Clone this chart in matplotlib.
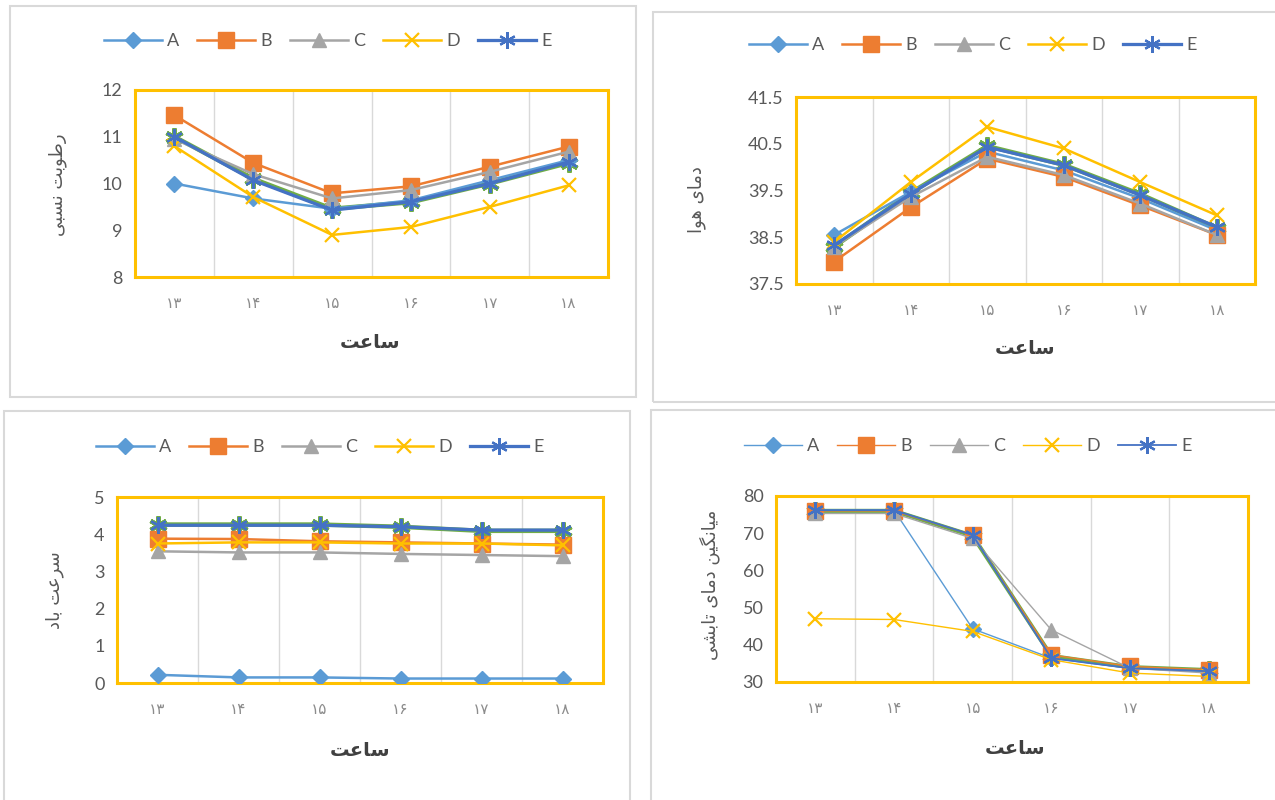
import matplotlib
matplotlib.use("Agg")
import matplotlib.pyplot as plt
from matplotlib.patches import Rectangle

# ---------------- data ----------------
hours = ["۱۳", "۱۴", "۱۵", "۱۶", "۱۷", "۱۸"]
series_names = ["A", "B", "C", "D", "E"]

# Panel 1: relative humidity
rh_A = [10.0, 9.68, 9.46, 9.64, 10.07, 10.5]
rh_B = [11.46, 10.44, 9.79, 9.94, 10.36, 10.79]
rh_C = [10.95, 10.2, 9.68, 9.86, 10.25, 10.68]
rh_D = [10.8, 9.71, 8.9, 9.07, 9.5, 9.96]
rh_E = [11.0, 10.07, 9.43, 9.61, 10.0, 10.46]
rh_F = [11.0, 10.1, 9.46, 9.6, 10.0, 10.44]

# Panel 2: air temperature
ta_A = [38.55, 39.47, 40.33, 39.93, 39.33, 38.65]
ta_B = [37.98, 39.14, 40.18, 39.79, 39.18, 38.55]
ta_C = [38.3, 39.36, 40.22, 39.83, 39.22, 38.55]
ta_D = [38.4, 39.68, 40.86, 40.4, 39.68, 38.97]
ta_E = [38.33, 39.43, 40.43, 40.04, 39.4, 38.72]
ta_F = [38.3, 39.45, 40.45, 40.05, 39.42, 38.7]

# Panel 3: wind speed
ws_A = [0.22, 0.15, 0.15, 0.12, 0.12, 0.12]
ws_B = [3.88, 3.87, 3.81, 3.78, 3.75, 3.72]
ws_C = [3.54, 3.51, 3.51, 3.47, 3.44, 3.41]
ws_D = [3.75, 3.78, 3.78, 3.75, 3.75, 3.7]
ws_E = [4.24, 4.24, 4.24, 4.2, 4.11, 4.11]
ws_F = [4.26, 4.26, 4.26, 4.2, 4.09, 4.09]

# Panel 4: mean radiant temperature
mrt_A = [76.2, 76.2, 44.3, 36.4, 33.7, 32.9]
mrt_B = [76.0, 76.0, 69.5, 37.3, 34.2, 33.3]
mrt_C = [75.3, 75.3, 68.6, 44.0, 33.7, 32.4]
mrt_D = [47.0, 46.8, 43.6, 36.0, 32.4, 31.5]
mrt_E = [76.2, 76.2, 69.5, 36.4, 33.7, 32.9]
mrt_F = [76.0, 76.0, 69.3, 37.0, 34.0, 33.2]

# ---------------- Persian text shaping (presentation forms, visual order) ----------------
def shape(codes):
    return "".join(" " if c == 0x20 else chr(c) for c in codes)[::-1]

SAAT = [0xFEB3, 0xFE8E, 0xFECB, 0xFE96]
DAMAYE = [0xFEA9, 0xFEE3, 0xFE8E, 0xFEEF]
lbl_x = shape(SAAT)
lbl_rh = shape([0xFEAD, 0xFEC3, 0xFEEE, 0xFE91, 0xFE96, 0x20,
                0xFEE7, 0xFEB4, 0xFE92, 0xFEF0])
lbl_ta = shape(DAMAYE + [0x20, 0xFEEB, 0xFEEE, 0xFE8D])
lbl_ws = shape([0xFEB3, 0xFEAE, 0xFECB, 0xFE96, 0x20, 0xFE91, 0xFE8E, 0xFEA9])
lbl_mrt = shape([0xFEE3, 0xFEF4, 0xFE8E, 0xFEE7, 0xFB95, 0xFEF4, 0xFEE6, 0x20]
                + DAMAYE + [0x20, 0xFE97, 0xFE8E, 0xFE91, 0xFEB8, 0xFEF0])

# ---------------- style ----------------
colors = {"A": "#5B9BD5", "B": "#ED7D31", "C": "#A5A5A5", "D": "#FFC000",
          "E": "#4472C4", "F": "#70AD47"}
markers = {"A": "D", "B": "s", "C": "^", "D": "x", "E": (6, 2, 0)}
msizes = {"A": 8, "B": 11, "C": 10, "D": 10, "E": 12}

W, H = 1275, 800
fig = plt.figure(figsize=(W / 100, H / 100), dpi=100)
fig.patch.set_facecolor("white")

def frac_rect(x0, y0, x1, y1):
    return [x0 / W, 1 - y1 / H, (x1 - x0) / W, (y1 - y0) / H]

# panel frames
for (x0, y0, x1, y1) in [(10, 6, 636, 397), (653, 12, 1290, 402),
                         (4, 411, 630, 810), (651, 410, 1290, 810)]:
    fig.add_artist(Rectangle((x0 / W, 1 - y1 / H), (x1 - x0) / W, (y1 - y0) / H,
                             transform=fig.transFigure, fill=False,
                             edgecolor="#D9D9D9", lw=1.5))

TXT = "#595959"

def panel(box, data, ylim, yticks, ylabel, ylab_xy, xlab_xy, leg_xy, lw, lwF):
    ax = fig.add_axes(frac_rect(*box))
    x = list(range(len(hours)))
    # green companion series under E
    ax.plot(x, data["F"], color=colors["F"], lw=lwF, marker=(6, 2, 0),
            ms=13, mew=3.2, mec=colors["F"], zorder=2)
    for name in series_names:
        ax.plot(x, data[name], color=colors[name], lw=lw if name != "E" else lw * 1.3,
                marker=markers[name], ms=msizes[name],
                mew=1.6 if name in ("D", "E") else 1,
                mec=colors[name], mfc=colors[name], label=name, zorder=3)
    ax.set_xlim(-0.5, len(hours) - 0.5)
    ax.set_ylim(*ylim)
    ax.set_yticks(yticks)
    ax.set_yticklabels([("%g" % t) for t in yticks], fontsize=13,
                       color=TXT, family="Lato")
    ax.set_xticks(x)
    ax.set_xticklabels(hours, fontsize=11, color="#8C8C8C", family="DejaVu Sans")
    ax.tick_params(axis="both", length=0, pad=9)
    ax.tick_params(axis="x", pad=14)
    for xv in [i + 0.5 for i in range(len(hours) - 1)]:
        ax.axvline(xv, color="#D9D9D9", lw=1, zorder=0)
    for s in ax.spines.values():
        s.set_edgecolor("#FFC000")
        s.set_linewidth(2.2)
    fig.text(ylab_xy[0] / W, 1 - ylab_xy[1] / H, ylabel, rotation=90,
             ha="center", va="center", fontsize=13, color=TXT,
             family="DejaVu Sans")
    fig.text(xlab_xy[0] / W, 1 - xlab_xy[1] / H, lbl_x, ha="center",
             va="center", fontsize=14, fontweight="bold", color="#404040",
             family="DejaVu Sans")
    leg = ax.legend(loc="center", bbox_to_anchor=(leg_xy[0] / W, 1 - leg_xy[1] / H),
                    bbox_transform=fig.transFigure, ncol=5, frameon=False,
                    handlelength=3.2, columnspacing=1.0, handletextpad=0.3,
                    prop={"family": "Lato", "size": 13})
    for t in leg.get_texts():
        t.set_color(TXT)
    return ax

panel((135, 90, 608, 277),
      {"A": rh_A, "B": rh_B, "C": rh_C, "D": rh_D, "E": rh_E, "F": rh_F},
      (8, 12), [8, 9, 10, 11, 12], lbl_rh, (58, 185), (370, 342), (328, 41), 1.8, 3.2)
panel((796, 97, 1255, 284),
      {"A": ta_A, "B": ta_B, "C": ta_C, "D": ta_D, "E": ta_E, "F": ta_F},
      (37.5, 41.5), [37.5, 38.5, 39.5, 40.5, 41.5], lbl_ta, (697, 200), (1025, 348), (973, 45), 1.8, 3.2)
panel((117, 497, 603, 683),
      {"A": ws_A, "B": ws_B, "C": ws_C, "D": ws_D, "E": ws_E, "F": ws_F},
      (0, 5), [0, 1, 2, 3, 4, 5], lbl_ws, (55, 590), (360, 750), (320, 447), 1.8, 3.2)
panel((776, 496, 1248, 682),
      {"A": mrt_A, "B": mrt_B, "C": mrt_C, "D": mrt_D, "E": mrt_E, "F": mrt_F},
      (30, 80), [30, 40, 50, 60, 70, 80], lbl_mrt, (710, 585), (1015, 748), (968, 446), 1.0, 3.0)

fig.savefig("out.png", dpi=100, facecolor="white")
